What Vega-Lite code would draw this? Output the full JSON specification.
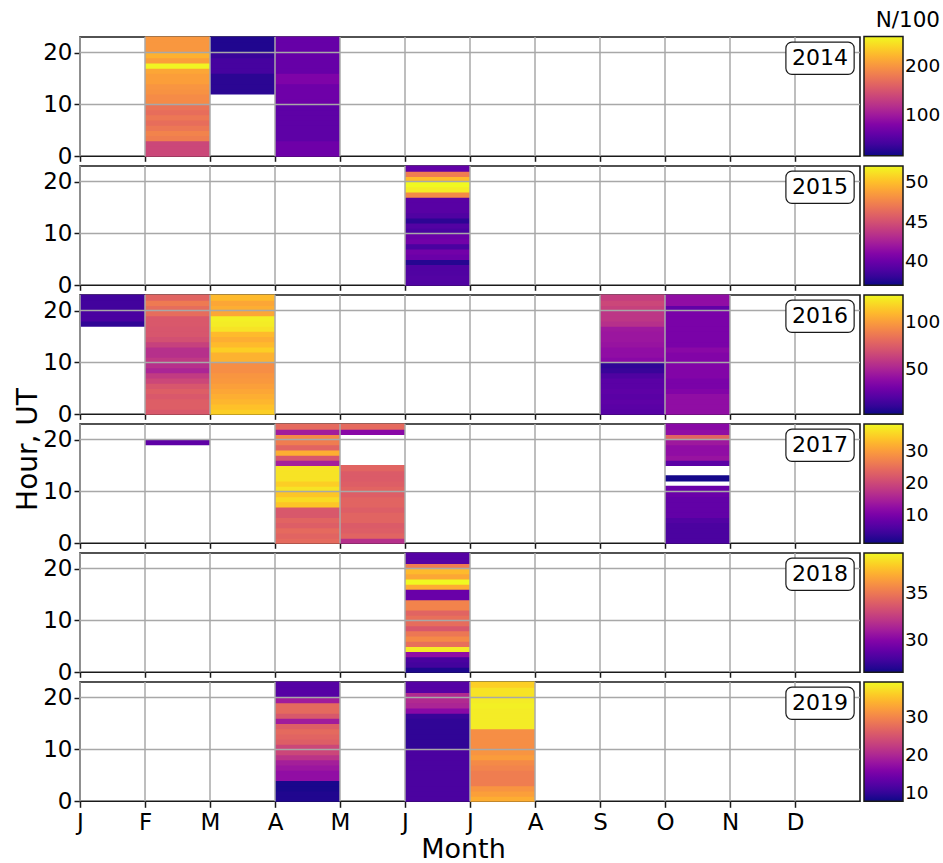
{
"$schema": "https://vega.github.io/schema/vega-lite/v6.json",
"background": "white",
"padding": {"left": 13, "top": 9, "right": 0, "bottom": 0},
"bounds": "flush",
"spacing": 9,
"datasets": {
"months": [{"month":1},{"month":2},{"month":3},{"month":4},{"month":5},{"month":6},{"month":7},{"month":8},{"month":9},{"month":10},{"month":11},{"month":12}],
"cells": [
{"year":2014,"month":2,"hour":0,"n":138},{"year":2014,"month":2,"hour":1,"n":138},{"year":2014,"month":2,"hour":2,"n":138},{"year":2014,"month":2,"hour":3,"n":182},{"year":2014,"month":2,"hour":4,"n":187},{"year":2014,"month":2,"hour":5,"n":177},{"year":2014,"month":2,"hour":6,"n":170},{"year":2014,"month":2,"hour":7,"n":177},{"year":2014,"month":2,"hour":8,"n":170},{"year":2014,"month":2,"hour":9,"n":175},{"year":2014,"month":2,"hour":10,"n":192},{"year":2014,"month":2,"hour":11,"n":192},{"year":2014,"month":2,"hour":12,"n":197},{"year":2014,"month":2,"hour":13,"n":199},{"year":2014,"month":2,"hour":14,"n":206},{"year":2014,"month":2,"hour":15,"n":206},{"year":2014,"month":2,"hour":16,"n":211},{"year":2014,"month":2,"hour":17,"n":258},{"year":2014,"month":2,"hour":18,"n":206},{"year":2014,"month":2,"hour":19,"n":218},{"year":2014,"month":2,"hour":20,"n":201},{"year":2014,"month":2,"hour":21,"n":201},{"year":2014,"month":2,"hour":22,"n":201},
{"year":2014,"month":3,"hour":12,"n":28},{"year":2014,"month":3,"hour":13,"n":28},{"year":2014,"month":3,"hour":14,"n":28},{"year":2014,"month":3,"hour":15,"n":28},{"year":2014,"month":3,"hour":16,"n":43},{"year":2014,"month":3,"hour":17,"n":43},{"year":2014,"month":3,"hour":18,"n":43},{"year":2014,"month":3,"hour":19,"n":36},{"year":2014,"month":3,"hour":20,"n":23},{"year":2014,"month":3,"hour":21,"n":23},{"year":2014,"month":3,"hour":22,"n":23},
{"year":2014,"month":4,"hour":0,"n":67},{"year":2014,"month":4,"hour":1,"n":67},{"year":2014,"month":4,"hour":2,"n":67},{"year":2014,"month":4,"hour":3,"n":57},{"year":2014,"month":4,"hour":4,"n":57},{"year":2014,"month":4,"hour":5,"n":57},{"year":2014,"month":4,"hour":6,"n":57},{"year":2014,"month":4,"hour":7,"n":57},{"year":2014,"month":4,"hour":8,"n":57},{"year":2014,"month":4,"hour":9,"n":57},{"year":2014,"month":4,"hour":10,"n":67},{"year":2014,"month":4,"hour":11,"n":67},{"year":2014,"month":4,"hour":12,"n":67},{"year":2014,"month":4,"hour":13,"n":67},{"year":2014,"month":4,"hour":14,"n":77},{"year":2014,"month":4,"hour":15,"n":77},{"year":2014,"month":4,"hour":16,"n":62},{"year":2014,"month":4,"hour":17,"n":62},{"year":2014,"month":4,"hour":18,"n":62},{"year":2014,"month":4,"hour":19,"n":62},{"year":2014,"month":4,"hour":20,"n":62},{"year":2014,"month":4,"hour":21,"n":62},{"year":2014,"month":4,"hour":22,"n":62},
{"year":2015,"month":6,"hour":0,"n":39.0},{"year":2015,"month":6,"hour":1,"n":39.1},{"year":2015,"month":6,"hour":2,"n":39.0},{"year":2015,"month":6,"hour":3,"n":39.0},{"year":2015,"month":6,"hour":4,"n":37.6},{"year":2015,"month":6,"hour":5,"n":40.0},{"year":2015,"month":6,"hour":6,"n":40.3},{"year":2015,"month":6,"hour":7,"n":38.8},{"year":2015,"month":6,"hour":8,"n":40.3},{"year":2015,"month":6,"hour":9,"n":40.0},{"year":2015,"month":6,"hour":10,"n":38.8},{"year":2015,"month":6,"hour":11,"n":39.1},{"year":2015,"month":6,"hour":12,"n":37.8},{"year":2015,"month":6,"hour":13,"n":39.0},{"year":2015,"month":6,"hour":14,"n":39.3},{"year":2015,"month":6,"hour":15,"n":39.3},{"year":2015,"month":6,"hour":16,"n":39.3},{"year":2015,"month":6,"hour":17,"n":47.8},{"year":2015,"month":6,"hour":18,"n":51.6},{"year":2015,"month":6,"hour":19,"n":52.0},{"year":2015,"month":6,"hour":20,"n":49.8},{"year":2015,"month":6,"hour":21,"n":47.2},{"year":2015,"month":6,"hour":22,"n":39.7},
{"year":2016,"month":1,"hour":17,"n":9.6},{"year":2016,"month":1,"hour":18,"n":17.2},{"year":2016,"month":1,"hour":19,"n":17.2},{"year":2016,"month":1,"hour":20,"n":14.7},{"year":2016,"month":1,"hour":21,"n":14.7},{"year":2016,"month":1,"hour":22,"n":14.7},
{"year":2016,"month":2,"hour":0,"n":73.1},{"year":2016,"month":2,"hour":1,"n":75.7},{"year":2016,"month":2,"hour":2,"n":75.7},{"year":2016,"month":2,"hour":3,"n":73.1},{"year":2016,"month":2,"hour":4,"n":75.7},{"year":2016,"month":2,"hour":5,"n":71.9},{"year":2016,"month":2,"hour":6,"n":65.5},{"year":2016,"month":2,"hour":7,"n":60.4},{"year":2016,"month":2,"hour":8,"n":50.3},{"year":2016,"month":2,"hour":9,"n":55.3},{"year":2016,"month":2,"hour":10,"n":59.2},{"year":2016,"month":2,"hour":11,"n":55.3},{"year":2016,"month":2,"hour":12,"n":55.3},{"year":2016,"month":2,"hour":13,"n":63.0},{"year":2016,"month":2,"hour":14,"n":69.3},{"year":2016,"month":2,"hour":15,"n":71.9},{"year":2016,"month":2,"hour":16,"n":71.9},{"year":2016,"month":2,"hour":17,"n":73.1},{"year":2016,"month":2,"hour":18,"n":73.1},{"year":2016,"month":2,"hour":19,"n":82.0},{"year":2016,"month":2,"hour":20,"n":82.0},{"year":2016,"month":2,"hour":21,"n":87.1},{"year":2016,"month":2,"hour":22,"n":78.2},
{"year":2016,"month":3,"hour":0,"n":116.3},{"year":2016,"month":3,"hour":1,"n":112.5},{"year":2016,"month":3,"hour":2,"n":108.7},{"year":2016,"month":3,"hour":3,"n":106.1},{"year":2016,"month":3,"hour":4,"n":103.6},{"year":2016,"month":3,"hour":5,"n":101.1},{"year":2016,"month":3,"hour":6,"n":98.5},{"year":2016,"month":3,"hour":7,"n":97.3},{"year":2016,"month":3,"hour":8,"n":94.7},{"year":2016,"month":3,"hour":9,"n":94.7},{"year":2016,"month":3,"hour":10,"n":107.4},{"year":2016,"month":3,"hour":11,"n":107.4},{"year":2016,"month":3,"hour":12,"n":116.3},{"year":2016,"month":3,"hour":13,"n":110.0},{"year":2016,"month":3,"hour":14,"n":106.1},{"year":2016,"month":3,"hour":15,"n":110.0},{"year":2016,"month":3,"hour":16,"n":122.7},{"year":2016,"month":3,"hour":17,"n":125.2},{"year":2016,"month":3,"hour":18,"n":126.5},{"year":2016,"month":3,"hour":19,"n":103.6},{"year":2016,"month":3,"hour":20,"n":106.1},{"year":2016,"month":3,"hour":21,"n":103.6},{"year":2016,"month":3,"hour":22,"n":110.0},
{"year":2016,"month":9,"hour":0,"n":21.1},{"year":2016,"month":9,"hour":1,"n":22.3},{"year":2016,"month":9,"hour":2,"n":23.6},{"year":2016,"month":9,"hour":3,"n":22.3},{"year":2016,"month":9,"hour":4,"n":23.6},{"year":2016,"month":9,"hour":5,"n":22.3},{"year":2016,"month":9,"hour":6,"n":22.3},{"year":2016,"month":9,"hour":7,"n":18.5},{"year":2016,"month":9,"hour":8,"n":12.2},{"year":2016,"month":9,"hour":9,"n":9.6},{"year":2016,"month":9,"hour":10,"n":37.6},{"year":2016,"month":9,"hour":11,"n":40.1},{"year":2016,"month":9,"hour":12,"n":40.1},{"year":2016,"month":9,"hour":13,"n":42.6},{"year":2016,"month":9,"hour":14,"n":43.9},{"year":2016,"month":9,"hour":15,"n":43.9},{"year":2016,"month":9,"hour":16,"n":45.2},{"year":2016,"month":9,"hour":17,"n":55.3},{"year":2016,"month":9,"hour":18,"n":57.9},{"year":2016,"month":9,"hour":19,"n":57.9},{"year":2016,"month":9,"hour":20,"n":63.0},{"year":2016,"month":9,"hour":21,"n":65.5},{"year":2016,"month":9,"hour":22,"n":61.7},
{"year":2016,"month":10,"hour":0,"n":40.1},{"year":2016,"month":10,"hour":1,"n":40.1},{"year":2016,"month":10,"hour":2,"n":40.1},{"year":2016,"month":10,"hour":3,"n":40.1},{"year":2016,"month":10,"hour":4,"n":35.0},{"year":2016,"month":10,"hour":5,"n":32.5},{"year":2016,"month":10,"hour":6,"n":32.5},{"year":2016,"month":10,"hour":7,"n":35.0},{"year":2016,"month":10,"hour":8,"n":35.0},{"year":2016,"month":10,"hour":9,"n":35.0},{"year":2016,"month":10,"hour":10,"n":35.0},{"year":2016,"month":10,"hour":11,"n":35.0},{"year":2016,"month":10,"hour":12,"n":37.6},{"year":2016,"month":10,"hour":13,"n":32.5},{"year":2016,"month":10,"hour":14,"n":32.5},{"year":2016,"month":10,"hour":15,"n":32.5},{"year":2016,"month":10,"hour":16,"n":32.5},{"year":2016,"month":10,"hour":17,"n":32.5},{"year":2016,"month":10,"hour":18,"n":32.5},{"year":2016,"month":10,"hour":19,"n":32.5},{"year":2016,"month":10,"hour":20,"n":24.9},{"year":2016,"month":10,"hour":21,"n":40.1},{"year":2016,"month":10,"hour":22,"n":40.1},
{"year":2017,"month":2,"hour":19,"n":7.4},
{"year":2017,"month":4,"hour":0,"n":24.2},{"year":2017,"month":4,"hour":1,"n":23.4},{"year":2017,"month":4,"hour":2,"n":24.2},{"year":2017,"month":4,"hour":3,"n":22.7},{"year":2017,"month":4,"hour":4,"n":23.4},{"year":2017,"month":4,"hour":5,"n":21.9},{"year":2017,"month":4,"hour":6,"n":21.9},{"year":2017,"month":4,"hour":7,"n":33.9},{"year":2017,"month":4,"hour":8,"n":35.8},{"year":2017,"month":4,"hour":9,"n":33.9},{"year":2017,"month":4,"hour":10,"n":36.5},{"year":2017,"month":4,"hour":11,"n":34.7},{"year":2017,"month":4,"hour":12,"n":36.5},{"year":2017,"month":4,"hour":13,"n":36.5},{"year":2017,"month":4,"hour":14,"n":36.5},{"year":2017,"month":4,"hour":15,"n":14.5},{"year":2017,"month":4,"hour":16,"n":21.6},{"year":2017,"month":4,"hour":17,"n":31.7},{"year":2017,"month":4,"hour":18,"n":23.4},{"year":2017,"month":4,"hour":19,"n":26.4},{"year":2017,"month":4,"hour":20,"n":27.9},{"year":2017,"month":4,"hour":21,"n":14.1},{"year":2017,"month":4,"hour":22,"n":24.2},
{"year":2017,"month":5,"hour":0,"n":16.7},{"year":2017,"month":5,"hour":1,"n":23.4},{"year":2017,"month":5,"hour":2,"n":22.7},{"year":2017,"month":5,"hour":3,"n":22.3},{"year":2017,"month":5,"hour":4,"n":23.4},{"year":2017,"month":5,"hour":5,"n":23.4},{"year":2017,"month":5,"hour":6,"n":22.7},{"year":2017,"month":5,"hour":7,"n":23.4},{"year":2017,"month":5,"hour":8,"n":23.4},{"year":2017,"month":5,"hour":9,"n":22.7},{"year":2017,"month":5,"hour":10,"n":23.4},{"year":2017,"month":5,"hour":11,"n":22.7},{"year":2017,"month":5,"hour":12,"n":22.3},{"year":2017,"month":5,"hour":13,"n":22.3},{"year":2017,"month":5,"hour":14,"n":23.4},{"year":2017,"month":5,"hour":21,"n":11.5},{"year":2017,"month":5,"hour":22,"n":24.2},
{"year":2017,"month":10,"hour":0,"n":5.5},{"year":2017,"month":10,"hour":1,"n":5.5},{"year":2017,"month":10,"hour":2,"n":5.5},{"year":2017,"month":10,"hour":3,"n":5.5},{"year":2017,"month":10,"hour":4,"n":6.2},{"year":2017,"month":10,"hour":5,"n":7.7},{"year":2017,"month":10,"hour":6,"n":7.7},{"year":2017,"month":10,"hour":7,"n":7.7},{"year":2017,"month":10,"hour":8,"n":7.7},{"year":2017,"month":10,"hour":9,"n":8.5},{"year":2017,"month":10,"hour":10,"n":8.5},{"year":2017,"month":10,"hour":12,"n":1.4},{"year":2017,"month":10,"hour":15,"n":7.0},{"year":2017,"month":10,"hour":16,"n":13.0},{"year":2017,"month":10,"hour":17,"n":12.2},{"year":2017,"month":10,"hour":18,"n":12.2},{"year":2017,"month":10,"hour":19,"n":13.7},{"year":2017,"month":10,"hour":20,"n":23.4},{"year":2017,"month":10,"hour":21,"n":12.2},{"year":2017,"month":10,"hour":22,"n":11.5},
{"year":2018,"month":6,"hour":0,"n":26.9},{"year":2018,"month":6,"hour":1,"n":27.9},{"year":2018,"month":6,"hour":2,"n":28.1},{"year":2018,"month":6,"hour":3,"n":30.4},{"year":2018,"month":6,"hour":4,"n":38.9},{"year":2018,"month":6,"hour":5,"n":34.7},{"year":2018,"month":6,"hour":6,"n":35.7},{"year":2018,"month":6,"hour":7,"n":35.0},{"year":2018,"month":6,"hour":8,"n":33.7},{"year":2018,"month":6,"hour":9,"n":34.6},{"year":2018,"month":6,"hour":10,"n":34.7},{"year":2018,"month":6,"hour":11,"n":34.2},{"year":2018,"month":6,"hour":12,"n":35.5},{"year":2018,"month":6,"hour":13,"n":35.5},{"year":2018,"month":6,"hour":14,"n":29.1},{"year":2018,"month":6,"hour":15,"n":29.1},{"year":2018,"month":6,"hour":16,"n":37.0},{"year":2018,"month":6,"hour":17,"n":39.3},{"year":2018,"month":6,"hour":18,"n":36.8},{"year":2018,"month":6,"hour":19,"n":37.4},{"year":2018,"month":6,"hour":20,"n":35.2},{"year":2018,"month":6,"hour":21,"n":28.5},{"year":2018,"month":6,"hour":22,"n":28.5},
{"year":2019,"month":4,"hour":0,"n":8.7},{"year":2019,"month":4,"hour":1,"n":8.7},{"year":2019,"month":4,"hour":2,"n":8.4},{"year":2019,"month":4,"hour":3,"n":8.4},{"year":2019,"month":4,"hour":4,"n":17.3},{"year":2019,"month":4,"hour":5,"n":17.3},{"year":2019,"month":4,"hour":6,"n":18.2},{"year":2019,"month":4,"hour":7,"n":19.1},{"year":2019,"month":4,"hour":8,"n":21.4},{"year":2019,"month":4,"hour":9,"n":23.6},{"year":2019,"month":4,"hour":10,"n":23.6},{"year":2019,"month":4,"hour":11,"n":26.1},{"year":2019,"month":4,"hour":12,"n":26.7},{"year":2019,"month":4,"hour":13,"n":27.3},{"year":2019,"month":4,"hour":14,"n":26.1},{"year":2019,"month":4,"hour":15,"n":18.8},{"year":2019,"month":4,"hour":16,"n":25.4},{"year":2019,"month":4,"hour":17,"n":27.3},{"year":2019,"month":4,"hour":18,"n":27.3},{"year":2019,"month":4,"hour":19,"n":18.8},{"year":2019,"month":4,"hour":20,"n":12.5},{"year":2019,"month":4,"hour":21,"n":12.5},{"year":2019,"month":4,"hour":22,"n":12.5},
{"year":2019,"month":6,"hour":0,"n":11.6},{"year":2019,"month":6,"hour":1,"n":11.6},{"year":2019,"month":6,"hour":2,"n":11.6},{"year":2019,"month":6,"hour":3,"n":11.6},{"year":2019,"month":6,"hour":4,"n":11.6},{"year":2019,"month":6,"hour":5,"n":11.6},{"year":2019,"month":6,"hour":6,"n":11.6},{"year":2019,"month":6,"hour":7,"n":11.6},{"year":2019,"month":6,"hour":8,"n":11.6},{"year":2019,"month":6,"hour":9,"n":11.6},{"year":2019,"month":6,"hour":10,"n":9.7},{"year":2019,"month":6,"hour":11,"n":9.7},{"year":2019,"month":6,"hour":12,"n":9.7},{"year":2019,"month":6,"hour":13,"n":9.7},{"year":2019,"month":6,"hour":14,"n":9.7},{"year":2019,"month":6,"hour":15,"n":9.7},{"year":2019,"month":6,"hour":16,"n":10.3},{"year":2019,"month":6,"hour":17,"n":16.6},{"year":2019,"month":6,"hour":18,"n":19.8},{"year":2019,"month":6,"hour":19,"n":20.4},{"year":2019,"month":6,"hour":20,"n":20.4},{"year":2019,"month":6,"hour":21,"n":12.5},{"year":2019,"month":6,"hour":22,"n":12.5},
{"year":2019,"month":7,"hour":0,"n":33.6},{"year":2019,"month":7,"hour":1,"n":32.4},{"year":2019,"month":7,"hour":2,"n":31.4},{"year":2019,"month":7,"hour":3,"n":29.2},{"year":2019,"month":7,"hour":4,"n":29.2},{"year":2019,"month":7,"hour":5,"n":29.2},{"year":2019,"month":7,"hour":6,"n":29.9},{"year":2019,"month":7,"hour":7,"n":30.5},{"year":2019,"month":7,"hour":8,"n":32.1},{"year":2019,"month":7,"hour":9,"n":31.4},{"year":2019,"month":7,"hour":10,"n":30.8},{"year":2019,"month":7,"hour":11,"n":30.8},{"year":2019,"month":7,"hour":12,"n":30.8},{"year":2019,"month":7,"hour":13,"n":30.8},{"year":2019,"month":7,"hour":14,"n":38.4},{"year":2019,"month":7,"hour":15,"n":38.4},{"year":2019,"month":7,"hour":16,"n":38.4},{"year":2019,"month":7,"hour":17,"n":38.4},{"year":2019,"month":7,"hour":18,"n":38.7},{"year":2019,"month":7,"hour":19,"n":38.4},{"year":2019,"month":7,"hour":20,"n":37.7},{"year":2019,"month":7,"hour":21,"n":37.7},{"year":2019,"month":7,"hour":22,"n":36.2}
]
},
"config": {
"font": "DejaVu Sans",
"view": {"stroke": "#1a1a1a", "strokeWidth": 1.6},
"axis": {"labelFont": "DejaVu Sans", "titleFont": "DejaVu Sans", "labelFontSize": 23, "labelColor": "#000", "titleColor": "#000", "titleFontSize": 28, "titleFontWeight": "normal", "tickColor": "#1a1a1a", "tickWidth": 1.5, "tickSize": 6, "domain": false, "grid": false, "labelFlush": false},
"legend": {"orient": "none", "direction": "vertical", "gradientDirection": "vertical", "legendX": 784, "legendY": 0, "padding": 0, "gradientLength": 119.3, "gradientThickness": 39, "gradientStrokeColor": "#1a1a1a", "gradientStrokeWidth": 1.5, "labelOffset": 5, "labelFont": "DejaVu Sans", "labelFontSize": 18.5, "labelColor": "#000", "titleFont": "DejaVu Sans", "titleFontSize": 21.5, "titleFontWeight": "normal", "titleColor": "#000", "titleAnchor": "end", "titlePadding": 5}
},
"resolve": {"scale": {"color": "independent"}},
"vconcat": [
{
"width": 780, "height": 119.3,
"resolve": {"scale": {"x": "independent", "y": "independent"}},
"layer": [
{"data": {"name": "cells"}, "transform": [{"filter": "datum.year == 2014"}], "mark": {"type": "rect", "height": {"band": 1.2}},
 "encoding": {
  "x": {"field": "month", "type": "ordinal", "scale": {"domain": [1,2,3,4,5,6,7,8,9,10,11,12], "paddingInner": 0, "paddingOuter": 0}, "axis": null},
  "y": {"field": "hour", "type": "ordinal", "scale": {"domain": [22,21,20,19,18,17,16,15,14,13,12,11,10,9,8,7,6,5,4,3,2,1,0], "paddingInner": 0, "paddingOuter": 0}, "axis": null},
  "color": {"field": "n", "type": "quantitative", "scale": {"scheme": "plasma", "domain": [16,260], "nice": false, "zero": false}, "legend": {"title": "N/100", "values": [100,200], "legendY": -27}}
 }},
{"data": {"name": "months"}, "mark": {"type": "rule", "color": "#a8a8a8", "strokeWidth": 1.5},
 "encoding": {"x": {"field": "month", "type": "ordinal", "bandPosition": 0, "scale": {"domain": [1,2,3,4,5,6,7,8,9,10,11,12], "paddingInner": 0, "paddingOuter": 0}, "axis": null}}},
{"data": {"name": "cells"}, "transform": [{"filter": "datum.year == 2014"}, {"aggregate": [{"op": "count", "as": "c"}], "groupby": ["year"]}], "mark": {"type": "rule", "color": "#a8a8a8", "strokeWidth": 1.5},
 "encoding": {"y": {"datum": 10, "type": "quantitative", "scale": {"domain": [0,23], "nice": false, "zero": false}, "axis": null}}},
{"data": {"name": "cells"}, "transform": [{"filter": "datum.year == 2014"}, {"aggregate": [{"op": "count", "as": "c"}], "groupby": ["year"]}], "mark": {"type": "rule", "color": "#a8a8a8", "strokeWidth": 1.5},
 "encoding": {"y": {"datum": 20, "type": "quantitative", "scale": {"domain": [0,23], "nice": false, "zero": false}, "axis": null}}},
{"data": {"name": "cells"}, "transform": [{"filter": "datum.year == 2014"}, {"aggregate": [{"op": "count", "as": "c"}], "groupby": ["year"]}], "mark": {"type": "rect", "cornerRadius": 6, "fill": "white", "stroke": "#1a1a1a", "strokeWidth": 1.2},
 "encoding": {"x": {"datum": 10.86, "type": "quantitative", "scale": {"domain": [0,12], "nice": false, "zero": false}, "axis": {"orient": "bottom", "values": [0,1,2,3,4,5,6,7,8,9,10,11], "labels": false, "title": null, "tickSize": 5}}, "x2": {"datum": 11.91}, "y": {"datum": 15.8, "type": "quantitative", "scale": {"domain": [0,23], "nice": false, "zero": false}, "axis": {"orient": "left", "values": [0,10,20], "title": null, "labelPadding": 2}}, "y2": {"datum": 22.0}}},
{"data": {"name": "cells"}, "transform": [{"filter": "datum.year == 2014"}, {"aggregate": [{"op": "count", "as": "c"}], "groupby": ["year"]}], "mark": {"type": "text", "fontSize": 22, "font": "DejaVu Sans", "color": "#000", "align": "center", "baseline": "middle"},
 "encoding": {"x": {"datum": 11.385, "type": "quantitative", "scale": {"domain": [0,12], "nice": false, "zero": false}, "axis": null}, "y": {"datum": 18.9, "type": "quantitative", "scale": {"domain": [0,23], "nice": false, "zero": false}, "axis": null}, "text": {"field": "year", "type": "nominal"}}}
]
},
{
"width": 780, "height": 119.3,
"resolve": {"scale": {"x": "independent", "y": "independent"}},
"layer": [
{"data": {"name": "cells"}, "transform": [{"filter": "datum.year == 2015"}], "mark": {"type": "rect", "height": {"band": 1.2}},
 "encoding": {
  "x": {"field": "month", "type": "ordinal", "scale": {"domain": [1,2,3,4,5,6,7,8,9,10,11,12], "paddingInner": 0, "paddingOuter": 0}, "axis": null},
  "y": {"field": "hour", "type": "ordinal", "scale": {"domain": [22,21,20,19,18,17,16,15,14,13,12,11,10,9,8,7,6,5,4,3,2,1,0], "paddingInner": 0, "paddingOuter": 0}, "axis": null},
  "color": {"field": "n", "type": "quantitative", "scale": {"scheme": "plasma", "domain": [37,52], "nice": false, "zero": false}, "legend": {"title": null, "values": [40,45,50]}}
 }},
{"data": {"name": "months"}, "mark": {"type": "rule", "color": "#a8a8a8", "strokeWidth": 1.5},
 "encoding": {"x": {"field": "month", "type": "ordinal", "bandPosition": 0, "scale": {"domain": [1,2,3,4,5,6,7,8,9,10,11,12], "paddingInner": 0, "paddingOuter": 0}, "axis": null}}},
{"data": {"name": "cells"}, "transform": [{"filter": "datum.year == 2015"}, {"aggregate": [{"op": "count", "as": "c"}], "groupby": ["year"]}], "mark": {"type": "rule", "color": "#a8a8a8", "strokeWidth": 1.5},
 "encoding": {"y": {"datum": 10, "type": "quantitative", "scale": {"domain": [0,23], "nice": false, "zero": false}, "axis": null}}},
{"data": {"name": "cells"}, "transform": [{"filter": "datum.year == 2015"}, {"aggregate": [{"op": "count", "as": "c"}], "groupby": ["year"]}], "mark": {"type": "rule", "color": "#a8a8a8", "strokeWidth": 1.5},
 "encoding": {"y": {"datum": 20, "type": "quantitative", "scale": {"domain": [0,23], "nice": false, "zero": false}, "axis": null}}},
{"data": {"name": "cells"}, "transform": [{"filter": "datum.year == 2015"}, {"aggregate": [{"op": "count", "as": "c"}], "groupby": ["year"]}], "mark": {"type": "rect", "cornerRadius": 6, "fill": "white", "stroke": "#1a1a1a", "strokeWidth": 1.2},
 "encoding": {"x": {"datum": 10.86, "type": "quantitative", "scale": {"domain": [0,12], "nice": false, "zero": false}, "axis": {"orient": "bottom", "values": [0,1,2,3,4,5,6,7,8,9,10,11], "labels": false, "title": null, "tickSize": 5}}, "x2": {"datum": 11.91}, "y": {"datum": 15.8, "type": "quantitative", "scale": {"domain": [0,23], "nice": false, "zero": false}, "axis": {"orient": "left", "values": [0,10,20], "title": null, "labelPadding": 2}}, "y2": {"datum": 22.0}}},
{"data": {"name": "cells"}, "transform": [{"filter": "datum.year == 2015"}, {"aggregate": [{"op": "count", "as": "c"}], "groupby": ["year"]}], "mark": {"type": "text", "fontSize": 22, "font": "DejaVu Sans", "color": "#000", "align": "center", "baseline": "middle"},
 "encoding": {"x": {"datum": 11.385, "type": "quantitative", "scale": {"domain": [0,12], "nice": false, "zero": false}, "axis": null}, "y": {"datum": 18.9, "type": "quantitative", "scale": {"domain": [0,23], "nice": false, "zero": false}, "axis": null}, "text": {"field": "year", "type": "nominal"}}}
]
},
{
"width": 780, "height": 119.3,
"resolve": {"scale": {"x": "independent", "y": "independent"}},
"layer": [
{"data": {"name": "cells"}, "transform": [{"filter": "datum.year == 2016"}], "mark": {"type": "rect", "height": {"band": 1.2}},
 "encoding": {
  "x": {"field": "month", "type": "ordinal", "scale": {"domain": [1,2,3,4,5,6,7,8,9,10,11,12], "paddingInner": 0, "paddingOuter": 0}, "axis": null},
  "y": {"field": "hour", "type": "ordinal", "scale": {"domain": [22,21,20,19,18,17,16,15,14,13,12,11,10,9,8,7,6,5,4,3,2,1,0], "paddingInner": 0, "paddingOuter": 0}, "axis": null},
  "color": {"field": "n", "type": "quantitative", "scale": {"scheme": "plasma", "domain": [2,129], "nice": false, "zero": false}, "legend": {"title": null, "values": [50,100]}}
 }},
{"data": {"name": "months"}, "mark": {"type": "rule", "color": "#a8a8a8", "strokeWidth": 1.5},
 "encoding": {"x": {"field": "month", "type": "ordinal", "bandPosition": 0, "scale": {"domain": [1,2,3,4,5,6,7,8,9,10,11,12], "paddingInner": 0, "paddingOuter": 0}, "axis": null}}},
{"data": {"name": "cells"}, "transform": [{"filter": "datum.year == 2016"}, {"aggregate": [{"op": "count", "as": "c"}], "groupby": ["year"]}], "mark": {"type": "rule", "color": "#a8a8a8", "strokeWidth": 1.5},
 "encoding": {"y": {"datum": 10, "type": "quantitative", "scale": {"domain": [0,23], "nice": false, "zero": false}, "axis": null}}},
{"data": {"name": "cells"}, "transform": [{"filter": "datum.year == 2016"}, {"aggregate": [{"op": "count", "as": "c"}], "groupby": ["year"]}], "mark": {"type": "rule", "color": "#a8a8a8", "strokeWidth": 1.5},
 "encoding": {"y": {"datum": 20, "type": "quantitative", "scale": {"domain": [0,23], "nice": false, "zero": false}, "axis": null}}},
{"data": {"name": "cells"}, "transform": [{"filter": "datum.year == 2016"}, {"aggregate": [{"op": "count", "as": "c"}], "groupby": ["year"]}], "mark": {"type": "rect", "cornerRadius": 6, "fill": "white", "stroke": "#1a1a1a", "strokeWidth": 1.2},
 "encoding": {"x": {"datum": 10.86, "type": "quantitative", "scale": {"domain": [0,12], "nice": false, "zero": false}, "axis": {"orient": "bottom", "values": [0,1,2,3,4,5,6,7,8,9,10,11], "labels": false, "title": null, "tickSize": 5}}, "x2": {"datum": 11.91}, "y": {"datum": 15.8, "type": "quantitative", "scale": {"domain": [0,23], "nice": false, "zero": false}, "axis": {"orient": "left", "values": [0,10,20], "title": null, "labelPadding": 2}}, "y2": {"datum": 22.0}}},
{"data": {"name": "cells"}, "transform": [{"filter": "datum.year == 2016"}, {"aggregate": [{"op": "count", "as": "c"}], "groupby": ["year"]}], "mark": {"type": "text", "fontSize": 22, "font": "DejaVu Sans", "color": "#000", "align": "center", "baseline": "middle"},
 "encoding": {"x": {"datum": 11.385, "type": "quantitative", "scale": {"domain": [0,12], "nice": false, "zero": false}, "axis": null}, "y": {"datum": 18.9, "type": "quantitative", "scale": {"domain": [0,23], "nice": false, "zero": false}, "axis": null}, "text": {"field": "year", "type": "nominal"}}}
]
},
{
"width": 780, "height": 119.3,
"resolve": {"scale": {"x": "independent", "y": "independent"}},
"layer": [
{"data": {"name": "cells"}, "transform": [{"filter": "datum.year == 2017"}], "mark": {"type": "rect", "height": {"band": 1.2}},
 "encoding": {
  "x": {"field": "month", "type": "ordinal", "scale": {"domain": [1,2,3,4,5,6,7,8,9,10,11,12], "paddingInner": 0, "paddingOuter": 0}, "axis": null},
  "y": {"field": "hour", "type": "ordinal", "scale": {"domain": [22,21,20,19,18,17,16,15,14,13,12,11,10,9,8,7,6,5,4,3,2,1,0], "paddingInner": 0, "paddingOuter": 0}, "axis": null},
  "color": {"field": "n", "type": "quantitative", "scale": {"scheme": "plasma", "domain": [1,38.4], "nice": false, "zero": false}, "legend": {"title": null, "values": [10,20,30]}}
 }},
{"data": {"name": "months"}, "mark": {"type": "rule", "color": "#a8a8a8", "strokeWidth": 1.5},
 "encoding": {"x": {"field": "month", "type": "ordinal", "bandPosition": 0, "scale": {"domain": [1,2,3,4,5,6,7,8,9,10,11,12], "paddingInner": 0, "paddingOuter": 0}, "axis": null}}},
{"data": {"name": "cells"}, "transform": [{"filter": "datum.year == 2017"}, {"aggregate": [{"op": "count", "as": "c"}], "groupby": ["year"]}], "mark": {"type": "rule", "color": "#a8a8a8", "strokeWidth": 1.5},
 "encoding": {"y": {"datum": 10, "type": "quantitative", "scale": {"domain": [0,23], "nice": false, "zero": false}, "axis": null}}},
{"data": {"name": "cells"}, "transform": [{"filter": "datum.year == 2017"}, {"aggregate": [{"op": "count", "as": "c"}], "groupby": ["year"]}], "mark": {"type": "rule", "color": "#a8a8a8", "strokeWidth": 1.5},
 "encoding": {"y": {"datum": 20, "type": "quantitative", "scale": {"domain": [0,23], "nice": false, "zero": false}, "axis": null}}},
{"data": {"name": "cells"}, "transform": [{"filter": "datum.year == 2017"}, {"aggregate": [{"op": "count", "as": "c"}], "groupby": ["year"]}], "mark": {"type": "rect", "cornerRadius": 6, "fill": "white", "stroke": "#1a1a1a", "strokeWidth": 1.2},
 "encoding": {"x": {"datum": 10.86, "type": "quantitative", "scale": {"domain": [0,12], "nice": false, "zero": false}, "axis": {"orient": "bottom", "values": [0,1,2,3,4,5,6,7,8,9,10,11], "labels": false, "title": null, "tickSize": 5}}, "x2": {"datum": 11.91}, "y": {"datum": 15.8, "type": "quantitative", "scale": {"domain": [0,23], "nice": false, "zero": false}, "axis": {"orient": "left", "values": [0,10,20], "title": "Hour, UT", "titleY": 25, "titlePadding": 0, "labelPadding": 2}}, "y2": {"datum": 22.0}}},
{"data": {"name": "cells"}, "transform": [{"filter": "datum.year == 2017"}, {"aggregate": [{"op": "count", "as": "c"}], "groupby": ["year"]}], "mark": {"type": "text", "fontSize": 22, "font": "DejaVu Sans", "color": "#000", "align": "center", "baseline": "middle"},
 "encoding": {"x": {"datum": 11.385, "type": "quantitative", "scale": {"domain": [0,12], "nice": false, "zero": false}, "axis": null}, "y": {"datum": 18.9, "type": "quantitative", "scale": {"domain": [0,23], "nice": false, "zero": false}, "axis": null}, "text": {"field": "year", "type": "nominal"}}}
]
},
{
"width": 780, "height": 119.3,
"resolve": {"scale": {"x": "independent", "y": "independent"}},
"layer": [
{"data": {"name": "cells"}, "transform": [{"filter": "datum.year == 2018"}], "mark": {"type": "rect", "height": {"band": 1.2}},
 "encoding": {
  "x": {"field": "month", "type": "ordinal", "scale": {"domain": [1,2,3,4,5,6,7,8,9,10,11,12], "paddingInner": 0, "paddingOuter": 0}, "axis": null},
  "y": {"field": "hour", "type": "ordinal", "scale": {"domain": [22,21,20,19,18,17,16,15,14,13,12,11,10,9,8,7,6,5,4,3,2,1,0], "paddingInner": 0, "paddingOuter": 0}, "axis": null},
  "color": {"field": "n", "type": "quantitative", "scale": {"scheme": "plasma", "domain": [26.6,39.3], "nice": false, "zero": false}, "legend": {"title": null, "values": [30,35]}}
 }},
{"data": {"name": "months"}, "mark": {"type": "rule", "color": "#a8a8a8", "strokeWidth": 1.5},
 "encoding": {"x": {"field": "month", "type": "ordinal", "bandPosition": 0, "scale": {"domain": [1,2,3,4,5,6,7,8,9,10,11,12], "paddingInner": 0, "paddingOuter": 0}, "axis": null}}},
{"data": {"name": "cells"}, "transform": [{"filter": "datum.year == 2018"}, {"aggregate": [{"op": "count", "as": "c"}], "groupby": ["year"]}], "mark": {"type": "rule", "color": "#a8a8a8", "strokeWidth": 1.5},
 "encoding": {"y": {"datum": 10, "type": "quantitative", "scale": {"domain": [0,23], "nice": false, "zero": false}, "axis": null}}},
{"data": {"name": "cells"}, "transform": [{"filter": "datum.year == 2018"}, {"aggregate": [{"op": "count", "as": "c"}], "groupby": ["year"]}], "mark": {"type": "rule", "color": "#a8a8a8", "strokeWidth": 1.5},
 "encoding": {"y": {"datum": 20, "type": "quantitative", "scale": {"domain": [0,23], "nice": false, "zero": false}, "axis": null}}},
{"data": {"name": "cells"}, "transform": [{"filter": "datum.year == 2018"}, {"aggregate": [{"op": "count", "as": "c"}], "groupby": ["year"]}], "mark": {"type": "rect", "cornerRadius": 6, "fill": "white", "stroke": "#1a1a1a", "strokeWidth": 1.2},
 "encoding": {"x": {"datum": 10.86, "type": "quantitative", "scale": {"domain": [0,12], "nice": false, "zero": false}, "axis": {"orient": "bottom", "values": [0,1,2,3,4,5,6,7,8,9,10,11], "labels": false, "title": null, "tickSize": 5}}, "x2": {"datum": 11.91}, "y": {"datum": 15.8, "type": "quantitative", "scale": {"domain": [0,23], "nice": false, "zero": false}, "axis": {"orient": "left", "values": [0,10,20], "title": null, "labelPadding": 2}}, "y2": {"datum": 22.0}}},
{"data": {"name": "cells"}, "transform": [{"filter": "datum.year == 2018"}, {"aggregate": [{"op": "count", "as": "c"}], "groupby": ["year"]}], "mark": {"type": "text", "fontSize": 22, "font": "DejaVu Sans", "color": "#000", "align": "center", "baseline": "middle"},
 "encoding": {"x": {"datum": 11.385, "type": "quantitative", "scale": {"domain": [0,12], "nice": false, "zero": false}, "axis": null}, "y": {"datum": 18.9, "type": "quantitative", "scale": {"domain": [0,23], "nice": false, "zero": false}, "axis": null}, "text": {"field": "year", "type": "nominal"}}}
]
},
{
"width": 780, "height": 119.3,
"resolve": {"scale": {"x": "independent", "y": "independent"}},
"layer": [
{"data": {"name": "cells"}, "transform": [{"filter": "datum.year == 2019"}], "mark": {"type": "rect", "height": {"band": 1.2}},
 "encoding": {
  "x": {"field": "month", "type": "ordinal", "scale": {"domain": [1,2,3,4,5,6,7,8,9,10,11,12], "paddingInner": 0, "paddingOuter": 0}, "axis": null},
  "y": {"field": "hour", "type": "ordinal", "scale": {"domain": [22,21,20,19,18,17,16,15,14,13,12,11,10,9,8,7,6,5,4,3,2,1,0], "paddingInner": 0, "paddingOuter": 0}, "axis": null},
  "color": {"field": "n", "type": "quantitative", "scale": {"scheme": "plasma", "domain": [7.8,39.3], "nice": false, "zero": false}, "legend": {"title": null, "values": [10,20,30]}}
 }},
{"data": {"name": "months"}, "mark": {"type": "rule", "color": "#a8a8a8", "strokeWidth": 1.5},
 "encoding": {"x": {"field": "month", "type": "ordinal", "bandPosition": 0, "scale": {"domain": [1,2,3,4,5,6,7,8,9,10,11,12], "paddingInner": 0, "paddingOuter": 0}, "axis": null}}},
{"data": {"name": "cells"}, "transform": [{"filter": "datum.year == 2019"}, {"aggregate": [{"op": "count", "as": "c"}], "groupby": ["year"]}], "mark": {"type": "rule", "color": "#a8a8a8", "strokeWidth": 1.5},
 "encoding": {"y": {"datum": 10, "type": "quantitative", "scale": {"domain": [0,23], "nice": false, "zero": false}, "axis": null}}},
{"data": {"name": "cells"}, "transform": [{"filter": "datum.year == 2019"}, {"aggregate": [{"op": "count", "as": "c"}], "groupby": ["year"]}], "mark": {"type": "rule", "color": "#a8a8a8", "strokeWidth": 1.5},
 "encoding": {"y": {"datum": 20, "type": "quantitative", "scale": {"domain": [0,23], "nice": false, "zero": false}, "axis": null}}},
{"data": {"name": "cells"}, "transform": [{"filter": "datum.year == 2019"}, {"aggregate": [{"op": "count", "as": "c"}], "groupby": ["year"]}], "mark": {"type": "rect", "cornerRadius": 6, "fill": "white", "stroke": "#1a1a1a", "strokeWidth": 1.2},
 "encoding": {"x": {"datum": 10.86, "type": "quantitative", "scale": {"domain": [0,12], "nice": false, "zero": false}, "axis": {"orient": "bottom", "values": [0,1,2,3,4,5,6,7,8,9,10,11], "labels": true, "labelAngle": 0, "labelPadding": 4, "labelExpr": "['J','F','M','A','M','J','J','A','S','O','N','D'][datum.value]", "title": "Month", "titleFontSize": 27, "titlePadding": 2, "titleX": 383, "tickSize": 6}}, "x2": {"datum": 11.91}, "y": {"datum": 15.8, "type": "quantitative", "scale": {"domain": [0,23], "nice": false, "zero": false}, "axis": {"orient": "left", "values": [0,10,20], "title": null, "labelPadding": 2}}, "y2": {"datum": 22.0}}},
{"data": {"name": "cells"}, "transform": [{"filter": "datum.year == 2019"}, {"aggregate": [{"op": "count", "as": "c"}], "groupby": ["year"]}], "mark": {"type": "text", "fontSize": 22, "font": "DejaVu Sans", "color": "#000", "align": "center", "baseline": "middle"},
 "encoding": {"x": {"datum": 11.385, "type": "quantitative", "scale": {"domain": [0,12], "nice": false, "zero": false}, "axis": null}, "y": {"datum": 18.9, "type": "quantitative", "scale": {"domain": [0,23], "nice": false, "zero": false}, "axis": null}, "text": {"field": "year", "type": "nominal"}}}
]
}
]
}
